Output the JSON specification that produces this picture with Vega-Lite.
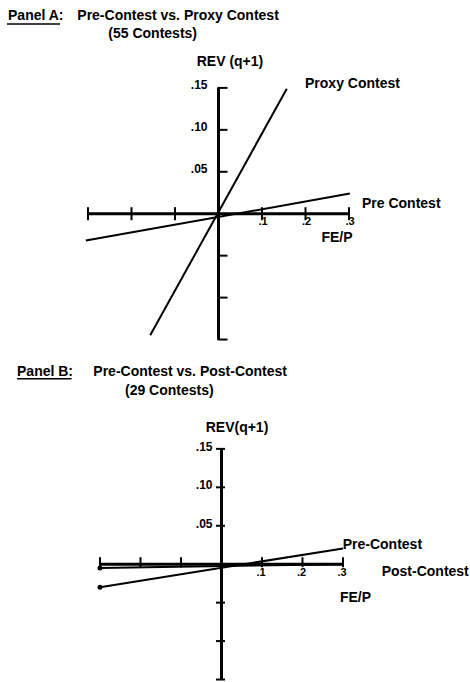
{
  "$schema": "https://vega.github.io/schema/vega-lite/v6.json",
  "width": 470,
  "height": 682,
  "autosize": {"type": "fit", "contains": "padding"},
  "padding": 0,
  "background": "white",
  "config": {
    "view": {"stroke": null},
    "text": {"font": "Liberation Sans", "fontWeight": "bold", "fontSize": 14, "color": "black", "baseline": "middle"}
  },
  "datasets": {
    "axesA": [{"x": -0.3, "y": 0, "x2": 0.3, "y2": 0}, {"x": 0, "y": -0.15, "x2": 0, "y2": 0.15}],
    "xticksA": [{"x": -0.3, "y": 0}, {"x": -0.2, "y": 0}, {"x": -0.1, "y": 0}, {"x": 0.1, "y": 0}, {"x": 0.2, "y": 0}, {"x": 0.3, "y": 0}],
    "yticksA": [{"x": 0, "y": 0.15}, {"x": 0, "y": 0.1}, {"x": 0, "y": 0.05}, {"x": 0, "y": -0.05}, {"x": 0, "y": -0.1}, {"x": 0, "y": -0.15}],
    "linesA": [
      {"series": "Proxy Contest", "x": -0.157, "y": -0.145},
      {"series": "Proxy Contest", "x": 0.157, "y": 0.149},
      {"series": "Pre Contest", "x": -0.305, "y": -0.032},
      {"series": "Pre Contest", "x": 0.302, "y": 0.024}
    ],
    "ylabA": [{"x": 0, "y": 0.15, "label": ".15"}, {"x": 0, "y": 0.1, "label": ".10"}, {"x": 0, "y": 0.05, "label": ".05"}],
    "xlabA": [{"x": 0.1, "y": 0, "label": ".1"}, {"x": 0.2, "y": 0, "label": ".2"}, {"x": 0.3, "y": 0, "label": ".3"}],
    "leftTextA": [
      {"x": -0.4839, "y": 0.2357, "label": "Panel A:"},
      {"x": -0.3246, "y": 0.2357, "label": "Pre-Contest vs. Proxy Contest"},
      {"x": -0.2533, "y": 0.2143, "label": "(55 Contests)"},
      {"x": 0.1989, "y": 0.1548, "label": "Proxy Contest"},
      {"x": 0.3299, "y": 0.0119, "label": "Pre Contest"}
    ],
    "centerTextA": [
      {"x": 0.0264, "y": 0.1804, "label": "REV (q+1)"},
      {"x": 0.2724, "y": -0.0285, "label": "FE/P"}
    ],
    "underA": [{"x": -0.4862, "x2": -0.3644, "y": 0.2262, "y2": 0.2262}],
    "axesB": [{"x": -0.3, "y": 0, "x2": 0.3, "y2": 0}, {"x": 0, "y": -0.15, "x2": 0, "y2": 0.15}],
    "xticksB": [{"x": -0.3, "y": 0}, {"x": -0.2, "y": 0}, {"x": -0.1, "y": 0}, {"x": 0.1, "y": 0}, {"x": 0.2, "y": 0}, {"x": 0.3, "y": 0}],
    "yticksB": [{"x": 0, "y": 0.15}, {"x": 0, "y": 0.1}, {"x": 0, "y": 0.05}, {"x": 0, "y": -0.05}, {"x": 0, "y": -0.1}, {"x": 0, "y": -0.15}],
    "linesB": [
      {"series": "Pre-Contest", "x": -0.3, "y": -0.0299},
      {"series": "Pre-Contest", "x": 0.3, "y": 0.0205},
      {"series": "Post-Contest", "x": -0.3, "y": -0.005},
      {"series": "Post-Contest", "x": 0.3, "y": 0.0}
    ],
    "dotsB": [{"series": "Pre-Contest", "x": -0.3, "y": -0.0299}, {"series": "Post-Contest", "x": -0.3, "y": -0.005}],
    "ylabB": [{"x": 0, "y": 0.15, "label": ".15"}, {"x": 0, "y": 0.1, "label": ".10"}, {"x": 0, "y": 0.05, "label": ".05"}],
    "xlabB": [{"x": 0.1, "y": 0, "label": ".1"}, {"x": 0.2, "y": 0, "label": ".2"}, {"x": 0.3, "y": 0, "label": ".3"}],
    "leftTextB": [
      {"x": -0.5049, "y": 0.2494, "label": "Panel B:"},
      {"x": -0.3165, "y": 0.2494, "label": "Pre-Contest vs. Post-Contest"},
      {"x": -0.2383, "y": 0.2247, "label": "(29 Contests)"},
      {"x": 0.2993, "y": 0.0253, "label": "Pre-Contest"},
      {"x": 0.3955, "y": -0.0097, "label": "Post-Contest"}
    ],
    "centerTextB": [
      {"x": 0.0383, "y": 0.1766, "label": "REV(q+1)"},
      {"x": 0.3309, "y": -0.0442, "label": "FE/P"}
    ],
    "underB": [{"x": -0.5049, "x2": -0.3704, "y": 0.2412, "y2": 0.2412}]
  },
  "layer": [
    {
      "encoding": {
        "x": {"field": "x", "type": "quantitative", "axis": null, "scale": {"domain": [-0.5023, 0.5782], "nice": false, "zero": false}},
        "y": {"field": "y", "type": "quantitative", "axis": null, "scale": {"domain": [-0.5571, 0.2548], "nice": false, "zero": false}}
      },
      "layer": [
        {"data": {"name": "axesA"}, "mark": {"type": "rule", "color": "black", "strokeWidth": 3}, "encoding": {"x2": {"field": "x2"}, "y2": {"field": "y2"}}},
        {"data": {"name": "underA"}, "mark": {"type": "rule", "color": "black", "strokeWidth": 1.5}, "encoding": {"x2": {"field": "x2"}, "y2": {"field": "y2"}}},
        {"data": {"name": "xticksA"}, "mark": {"type": "tick", "orient": "vertical", "size": 13, "thickness": 2, "color": "black", "opacity": 1}},
        {"data": {"name": "yticksA"}, "mark": {"type": "tick", "orient": "horizontal", "size": 10, "thickness": 2, "color": "black", "opacity": 1, "xOffset": 4}},
        {"data": {"name": "linesA"}, "mark": {"type": "line", "color": "black", "strokeWidth": 2}, "encoding": {"detail": {"field": "series"}}},
        {"data": {"name": "ylabA"}, "mark": {"type": "text", "align": "right", "dx": -11, "dy": -3, "fontSize": 12}, "encoding": {"text": {"field": "label"}}},
        {"data": {"name": "xlabA"}, "mark": {"type": "text", "align": "center", "dx": 1, "dy": 8, "fontSize": 11}, "encoding": {"text": {"field": "label"}}},
        {"data": {"name": "leftTextA"}, "mark": {"type": "text", "align": "left"}, "encoding": {"text": {"field": "label"}}},
        {"data": {"name": "centerTextA"}, "mark": {"type": "text", "align": "center"}, "encoding": {"text": {"field": "label"}}}
      ]
    },
    {
      "encoding": {
        "x": {"field": "x", "type": "quantitative", "axis": null, "scale": {"domain": [-0.5469, 0.6136], "nice": false, "zero": false}},
        "y": {"field": "y", "type": "quantitative", "axis": null, "scale": {"domain": [-0.1519, 0.7338], "nice": false, "zero": false}}
      },
      "layer": [
        {"data": {"name": "axesB"}, "mark": {"type": "rule", "color": "black", "strokeWidth": 3}, "encoding": {"x2": {"field": "x2"}, "y2": {"field": "y2"}}},
        {"data": {"name": "underB"}, "mark": {"type": "rule", "color": "black", "strokeWidth": 1.5}, "encoding": {"x2": {"field": "x2"}, "y2": {"field": "y2"}}},
        {"data": {"name": "xticksB"}, "mark": {"type": "tick", "orient": "vertical", "size": 10, "thickness": 2, "color": "black", "opacity": 1, "yOffset": -2}},
        {"data": {"name": "yticksB"}, "mark": {"type": "tick", "orient": "horizontal", "size": 9, "thickness": 2, "color": "black", "opacity": 1, "xOffset": -1}},
        {"data": {"name": "linesB"}, "mark": {"type": "line", "color": "black", "strokeWidth": 2}, "encoding": {"detail": {"field": "series"}}},
        {"data": {"name": "dotsB"}, "mark": {"type": "point", "filled": true, "color": "black", "size": 25, "opacity": 1}},
        {"data": {"name": "ylabB"}, "mark": {"type": "text", "align": "right", "dx": -9, "dy": -2, "fontSize": 12}, "encoding": {"text": {"field": "label"}}},
        {"data": {"name": "xlabB"}, "mark": {"type": "text", "align": "center", "dx": -1, "dy": 9, "fontSize": 11}, "encoding": {"text": {"field": "label"}}},
        {"data": {"name": "leftTextB"}, "mark": {"type": "text", "align": "left"}, "encoding": {"text": {"field": "label"}}},
        {"data": {"name": "centerTextB"}, "mark": {"type": "text", "align": "center"}, "encoding": {"text": {"field": "label"}}}
      ]
    }
  ],
  "resolve": {"scale": {"x": "independent", "y": "independent"}}
}
